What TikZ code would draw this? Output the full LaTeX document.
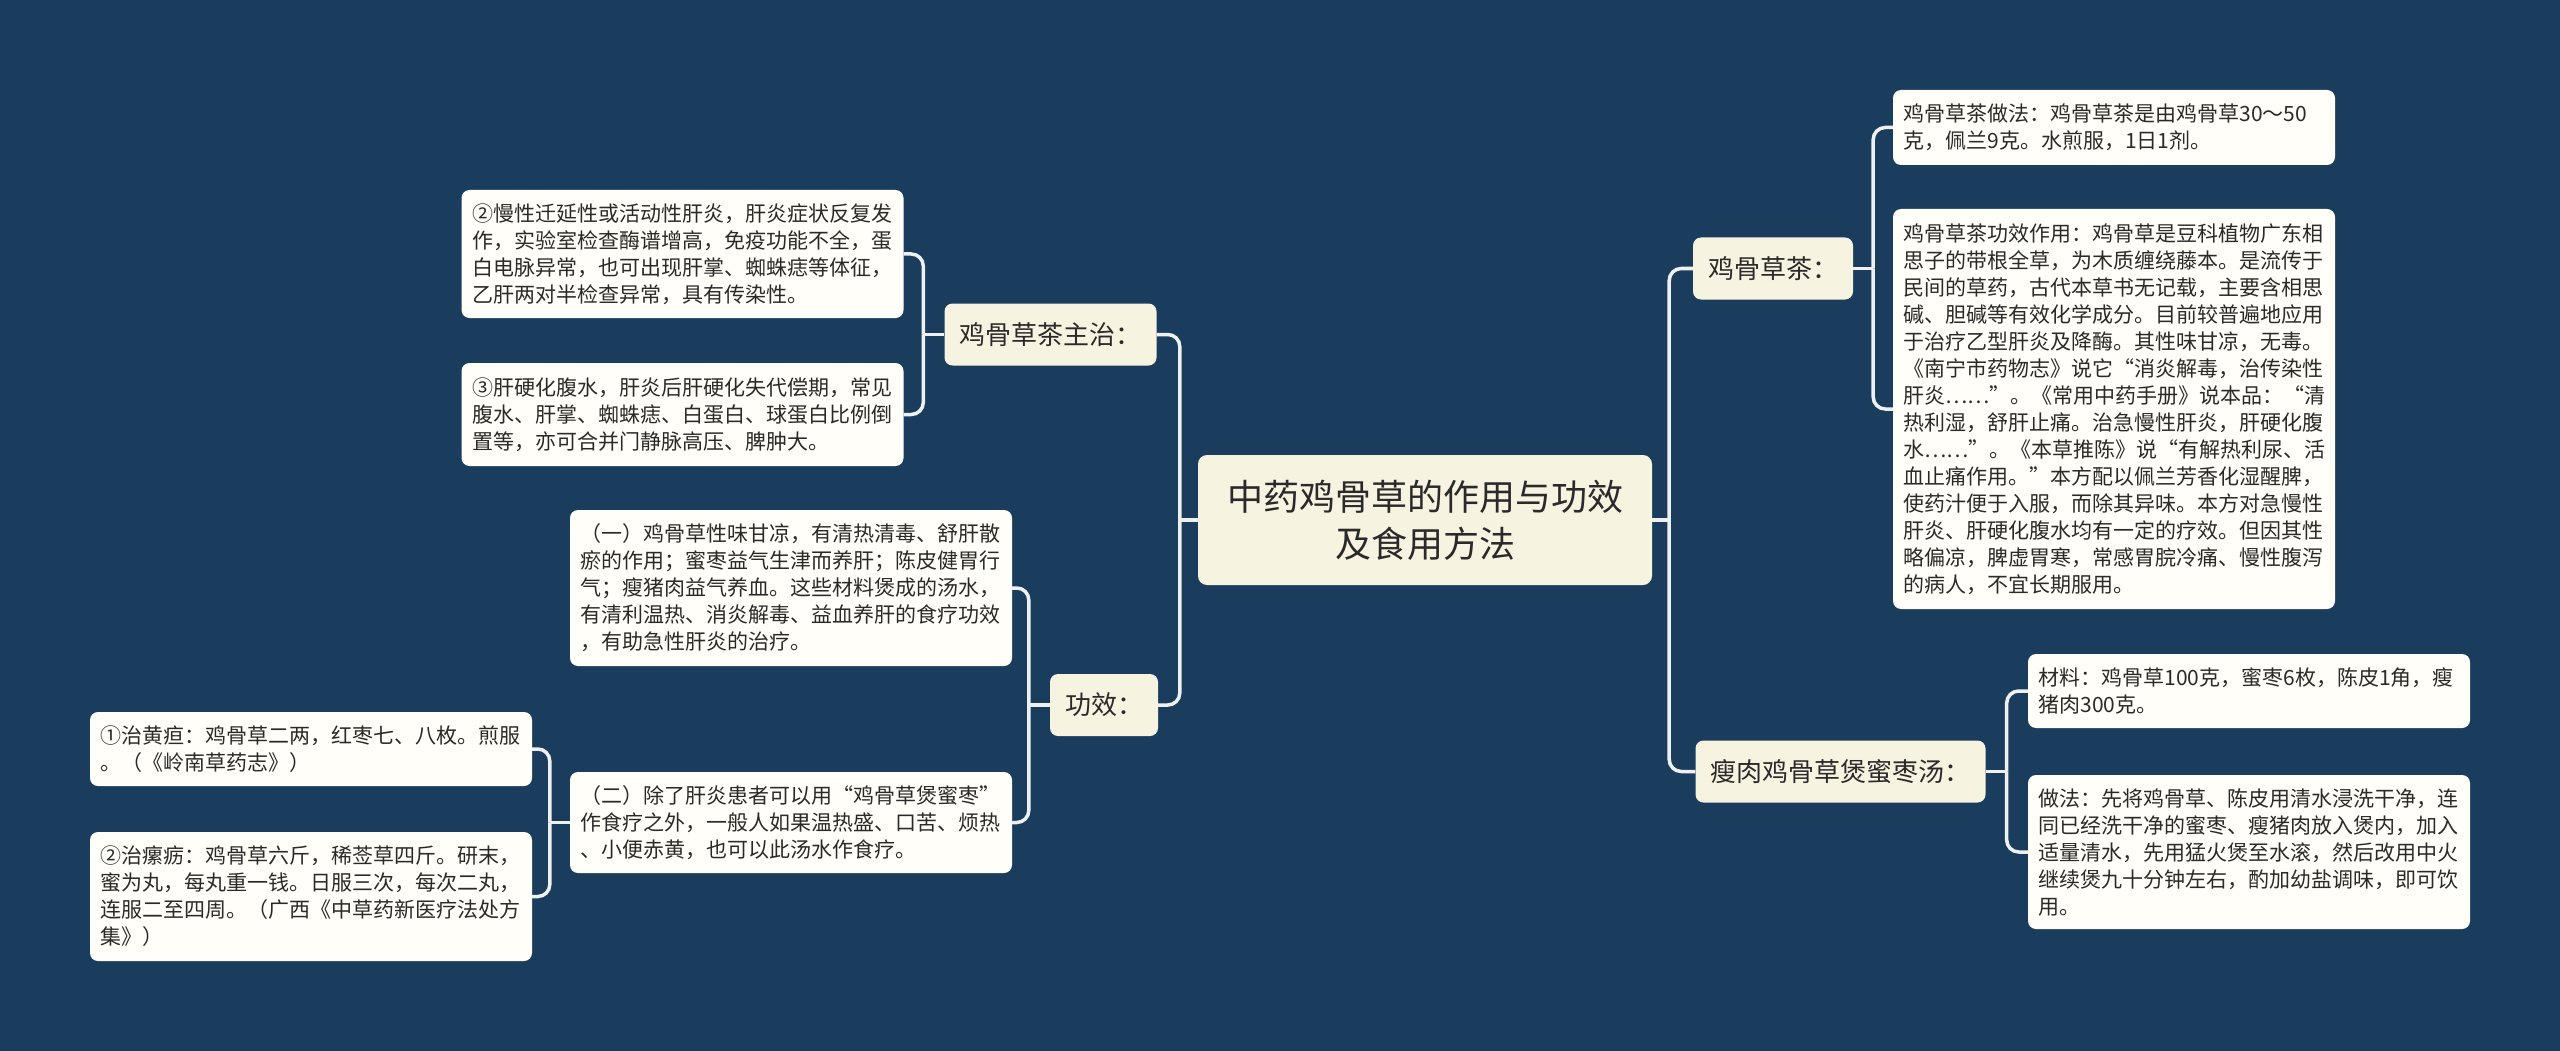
\documentclass[tikz,border=0pt]{standalone}
\usepackage{fontspec}
\newfontfamily\cjk{Noto Sans CJK SC}
\definecolor{bg}{HTML}{1B3D5D}
\definecolor{brfill}{HTML}{F7F3E1}
\definecolor{leaffill}{HTML}{FFFEF8}
\definecolor{txt}{HTML}{2A2A2A}
\definecolor{linec}{HTML}{EEF0F2}
\begin{document}
\begin{tikzpicture}[x=1pt,y=-1pt,
  leaf/.style={fill=leaffill, rounded corners=8pt, text width=421pt, inner xsep=10.5pt, inner ysep=0pt, align=left, text=txt, font=\cjk\fontsize{21}{27}\selectfont},
  branch/.style={fill=brfill, rounded corners=8pt, inner xsep=15pt, inner ysep=0pt, minimum height=62pt, text=txt, font=\cjk\fontsize{26}{30}\selectfont},
  rootnode/.style={fill=brfill, rounded corners=9pt, minimum width=454pt, minimum height=130pt, align=center, text=txt, font=\cjk\fontsize{36}{47}\selectfont},
  conn/.style={draw=linec, line width=3.5pt},
  elbow/.style={conn, rounded corners=12pt}]
\fill[bg] (0,0) rectangle (2560,1051);
\useasboundingbox (0,0) rectangle (2560,1051);

% root
\node[rootnode] (root) at (1425,520) {中药鸡骨草的作用与功效\\及食用方法};

% right side
\node[branch] (b1) at (1773,268.5) {鸡骨草茶：};
\node[leaf, minimum height=75pt] (r1) at (2114,127.5) {鸡骨草茶做法：鸡骨草茶是由鸡骨草30～50\\克，佩兰9克。水煎服，1日1剂。};
\node[leaf, minimum height=400pt] (r2) at (2114,409) {鸡骨草茶功效作用：鸡骨草是豆科植物广东相\\思子的带根全草，为木质缠绕藤本。是流传于\\民间的草药，古代本草书无记载，主要含相思\\碱、胆碱等有效化学成分。目前较普遍地应用\\于治疗乙型肝炎及降酶。其性味甘凉，无毒。\\《南宁市药物志》说它“消炎解毒，治传染性\\肝炎……”。《常用中药手册》说本品：“清\\热利湿，舒肝止痛。治急慢性肝炎，肝硬化腹\\水……”。《本草推陈》说“有解热利尿、活\\血止痛作用。”本方配以佩兰芳香化湿醒脾，\\使药汁便于入服，而除其异味。本方对急慢性\\肝炎、肝硬化腹水均有一定的疗效。但因其性\\略偏凉，脾虚胃寒，常感胃脘冷痛、慢性腹泻\\的病人，不宜长期服用。};

\node[branch] (b2) at (1840.5,771.5) {瘦肉鸡骨草煲蜜枣汤：};
\node[leaf, minimum height=74pt] (m1) at (2249,691) {材料：鸡骨草100克，蜜枣6枚，陈皮1角，瘦\\猪肉300克。};
\node[leaf, minimum height=154pt] (m2) at (2249,852) {做法：先将鸡骨草、陈皮用清水浸洗干净，连\\同已经洗干净的蜜枣、瘦猪肉放入煲内，加入\\适量清水，先用猛火煲至水滚，然后改用中火\\继续煲九十分钟左右，酌加幼盐调味，即可饮\\用。};

% left side
\node[branch] (lb1) at (1050.5,334.5) {鸡骨草茶主治：};
\node[leaf, minimum height=128pt] (l1) at (682.5,254) {②慢性迁延性或活动性肝炎，肝炎症状反复发\\作，实验室检查酶谱增高，免疫功能不全，蛋\\白电脉异常，也可出现肝掌、蜘蛛痣等体征，\\乙肝两对半检查异常，具有传染性。};
\node[leaf, minimum height=103pt] (l2) at (682.5,414.5) {③肝硬化腹水，肝炎后肝硬化失代偿期，常见\\腹水、肝掌、蜘蛛痣、白蛋白、球蛋白比例倒\\置等，亦可合并门静脉高压、脾肿大。};

\node[branch] (lb2) at (1104,705) {功效：};
\node[leaf, minimum height=156pt] (g1) at (791,588) {（一）鸡骨草性味甘凉，有清热清毒、舒肝散\\瘀的作用；蜜枣益气生津而养肝；陈皮健胃行\\气；瘦猪肉益气养血。这些材料煲成的汤水，\\有清利温热、消炎解毒、益血养肝的食疗功效\\，有助急性肝炎的治疗。};
\node[leaf, minimum height=101pt] (g2) at (791,822.5) {（二）除了肝炎患者可以用“鸡骨草煲蜜枣”\\作食疗之外，一般人如果温热盛、口苦、烦热\\、小便赤黄，也可以此汤水作食疗。};

\node[leaf, minimum height=74pt] (h1) at (311,749) {①治黄疸：鸡骨草二两，红枣七、八枚。煎服\\。（《岭南草药志》）};
\node[leaf, minimum height=129pt] (h2) at (311,896.5) {②治瘰疬：鸡骨草六斤，稀莶草四斤。研末，\\蜜为丸，每丸重一钱。日服三次，每次二丸，\\连服二至四周。（广西《中草药新医疗法处方\\集》）};

% junction coordinates
\coordinate (jR) at ([xshift=17pt]root.east);
\coordinate (jL) at ([xshift=-18pt]root.west);
\coordinate (jb1) at ([xshift=20pt]b1.east);
\coordinate (jb2) at ([xshift=21pt]b2.east);
\coordinate (jlb1) at ([xshift=-21pt]lb1.west);
\coordinate (jlb2) at ([xshift=-21pt]lb2.west);
\coordinate (jg2) at ([xshift=-20pt]g2.west);

% connectors
\draw[conn] (root.east) -- (jR);
\draw[elbow] (jR) |- (b1.west);
\draw[elbow] (jR) |- (b2.west);
\draw[conn] (root.west) -- (jL);
\draw[elbow] (jL) |- (lb1.east);
\draw[elbow] (jL) |- (lb2.east);

\draw[conn] (b1.east) -- (jb1);
\draw[elbow] (jb1) |- (r1.west);
\draw[elbow] (jb1) |- (r2.west);
\draw[conn] (b2.east) -- (jb2);
\draw[elbow] (jb2) |- (m1.west);
\draw[elbow] (jb2) |- (m2.west);

\draw[conn] (lb1.west) -- (jlb1);
\draw[elbow] (jlb1) |- (l1.east);
\draw[elbow] (jlb1) |- (l2.east);
\draw[conn] (lb2.west) -- (jlb2);
\draw[elbow] (jlb2) |- (g1.east);
\draw[elbow] (jlb2) |- (g2.east);

\draw[conn] (g2.west) -- (jg2);
\draw[elbow] (jg2) |- (h1.east);
\draw[elbow] (jg2) |- (h2.east);
\end{tikzpicture}
\end{document}
